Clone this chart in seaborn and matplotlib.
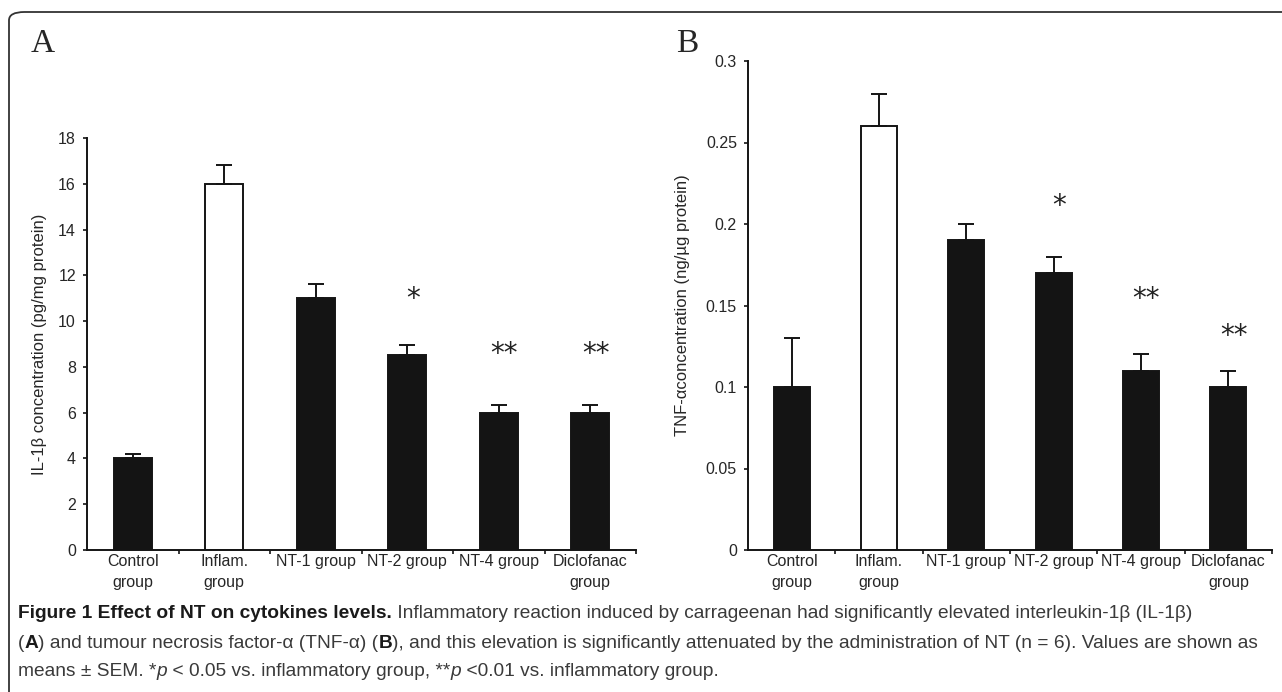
import matplotlib
matplotlib.use("Agg")
import matplotlib.pyplot as plt
import seaborn as sns
import pandas as pd
import numpy as np
from matplotlib.patches import FancyBboxPatch

# ---------------- data ----------------
categories = ["Control\ngroup", "Inflam.\ngroup", "NT-1 group", "NT-2 group", "NT-4 group", "Diclofanac\ngroup"]
il1b_mean = [4.0, 16.0, 11.0, 8.5, 6.0, 6.0]
il1b_sem = [0.2, 0.8, 0.6, 0.45, 0.35, 0.35]
il1b_stars = ["", "", "", "*", "**", "**"]
il1b_star_y = [0, 0, 0, 10.95, 8.55, 8.55]

tnf_mean = [0.10, 0.26, 0.19, 0.17, 0.11, 0.10]
tnf_sem = [0.03, 0.02, 0.01, 0.01, 0.01, 0.01]
tnf_stars = ["", "", "", "*", "**", "**"]
tnf_star_y = [0, 0, 0, 0.2108, 0.154, 0.131]

bar_colors = ["#141414", "#ffffff", "#141414", "#141414", "#141414", "#141414"]

sns.set_style("ticks")
plt.rcParams["font.family"] = ["Liberation Sans", "DejaVu Sans"]

W, H = 1282, 692
fig = plt.figure(figsize=(W / 100, H / 100), dpi=100)
fig.patch.set_facecolor("white")

def px_axes(l, t, r, b):
    return fig.add_axes([l / W, 1 - b / H, (r - l) / W, (b - t) / H])

def panel(ax, means, sems, ymax, yticks, ylabel, width, stars, stary, labelpad):
    df = pd.DataFrame({"group": categories, "value": means})
    sns.barplot(data=df, x="group", y="value", hue="group", palette=bar_colors,
                legend=False, width=width, edgecolor="#141414", linewidth=1.4,
                ax=ax, errorbar=None, saturation=1)
    x = np.arange(len(categories))
    ax.errorbar(x, means, yerr=[np.zeros(len(means)), sems], fmt="none",
                ecolor="#141414", elinewidth=1.4, capsize=5.5, capthick=1.4)
    ax.set_xlim(-0.5, len(categories) - 0.5)
    ax.set_ylim(0, ymax)
    ax.set_yticks(yticks)
    ax.set_yticklabels([f"{t:g}" for t in yticks], fontsize=11.5)
    ax.set_xticks(x)
    ax.set_xticklabels(categories, fontsize=11.5, linespacing=1.45)
    ax.set_xticks(np.arange(len(categories)) + 0.5, minor=True)
    ax.tick_params(axis="x", which="major", length=0, pad=3)
    ax.tick_params(axis="x", which="minor", length=3, width=1.2, direction="out", color="#141414")
    ax.tick_params(axis="y", length=3, width=1.2, direction="out", color="#141414", pad=5)
    ax.set_xlabel("")
    ax.set_ylabel(ylabel, fontsize=12, labelpad=labelpad)
    for s in ["top", "right"]:
        ax.spines[s].set_visible(False)
    for s in ["left", "bottom"]:
        ax.spines[s].set_linewidth(1.4)
        ax.spines[s].set_color("#141414")
    for xi, s, yy in zip(x, stars, stary):
        if s:
            ax.text(xi + 0.06, yy, s, ha="center", va="center", fontsize=20,
                    fontfamily="DejaVu Sans", color="#222222")

axA = px_axes(87, 138, 636, 550)
panel(axA, il1b_mean, il1b_sem, 18, list(range(0, 19, 2)),
      "IL-1β concentration (pg/mg protein)", 0.42, il1b_stars, il1b_star_y, 8)

axB = px_axes(748, 61, 1272, 550)
panel(axB, tnf_mean, tnf_sem, 0.3, [0, 0.05, 0.1, 0.15, 0.2, 0.25, 0.3],
      "TNF-αconcentration (ng/µg protein)", 0.41, tnf_stars, tnf_star_y, 11)

fig.text(31 / W, 1 - 44 / H, "A", fontsize=24, fontfamily="Liberation Serif", va="center", ha="left")
fig.text(676 / W, 1 - 44 / H, "B", fontsize=24, fontfamily="Liberation Serif", va="center", ha="left")

# rounded border
box = FancyBboxPatch((9 / W, 1 - 705 / H), (1320 - 9) / W, (705 - 12) / H,
                     boxstyle="round,pad=0,rounding_size=0.012",
                     transform=fig.transFigure, fill=False, edgecolor="#333333",
                     linewidth=1.3, clip_on=False)
fig.patches.append(box)

# caption
renderer = fig.canvas.get_renderer()
cap_col = "#3a3a3a"
line1 = [
    ("Figure 1 Effect of NT on cytokines levels.", "bold", "normal", "#1a1a1a"),
    (" Inflammatory reaction induced by carrageenan had significantly elevated interleukin-1β (IL-1β)", "normal", "normal", cap_col),
]
line2 = [
    ("(", "normal", "normal", cap_col),
    ("A", "bold", "normal", "#1a1a1a"),
    (") and tumour necrosis factor-α (TNF-α) (", "normal", "normal", cap_col),
    ("B", "bold", "normal", "#1a1a1a"),
    ("), and this elevation is significantly attenuated by the administration of NT (n = 6). Values are shown as", "normal", "normal", cap_col),
]
line3 = [
    ("means ± SEM. *", "normal", "normal", cap_col),
    ("p", "normal", "italic", cap_col),
    (" < 0.05 vs. inflammatory group, **", "normal", "normal", cap_col),
    ("p", "normal", "italic", cap_col),
    (" <0.01 vs. inflammatory group.", "normal", "normal", cap_col),
]

def write_line(x0, y0, segments, size, draw=True):
    x = x0
    made = []
    for txt, weight, style, color in segments:
        t = fig.text(x / W, 1 - y0 / H, txt, fontsize=size,
                     fontweight=weight, fontstyle=style, color=color, va="center", ha="left")
        bb = t.get_window_extent(renderer=renderer)
        x += bb.width
        made.append(t)
    if not draw:
        for t in made:
            t.remove()
    return x - x0

base = 10.0
w2 = write_line(18, 644, line2, base, draw=False)
cap_size = base * (1262 - 18) / w2
write_line(18, 614, line1, cap_size)
write_line(18, 644, line2, cap_size)
write_line(18, 672, line3, cap_size)

fig.savefig("out.png", dpi=100, facecolor="white")
